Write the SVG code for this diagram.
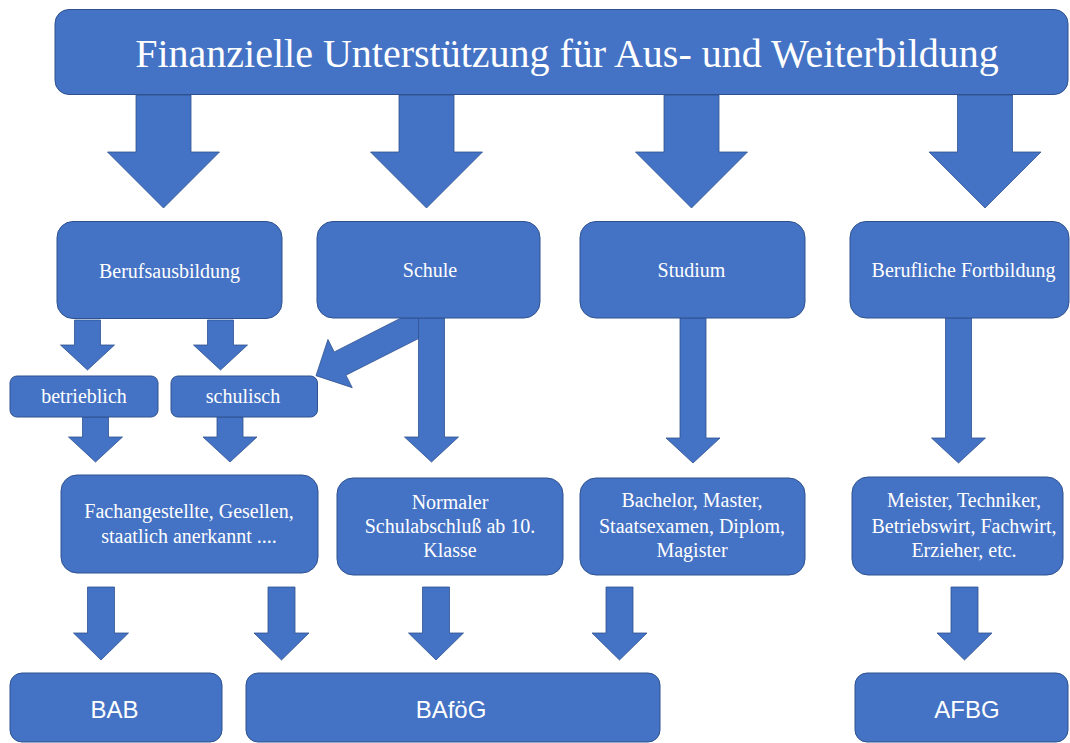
<svg xmlns="http://www.w3.org/2000/svg" width="1070" height="743" viewBox="0 0 1070 743">
<style>
.box{fill:#4472C4;stroke:#2F528F;stroke-width:1}
.arr{fill:#4472C4;stroke:#2F528F;stroke-width:0.8;stroke-linejoin:miter}
.t{fill:#ffffff;font-family:"Liberation Serif","Times New Roman",serif;font-size:20px;text-anchor:middle}
.tt{fill:#ffffff;font-family:"Liberation Serif","Times New Roman",serif;font-size:40px;text-anchor:middle}
.ts{fill:#ffffff;font-family:"Liberation Sans",Arial,sans-serif;font-size:24px;text-anchor:middle}
</style>
<rect width="1070" height="743" fill="#ffffff"/>
<g id="connectors">
<polygon class="arr" points="136,95 191,95 191,152 219.5,152 163.5,208 107.5,152 136,152"/>
<polygon class="arr" points="399,95 454,95 454,152 482.5,152 426.5,208 370.5,152 399,152"/>
<polygon class="arr" points="664,95 719,95 719,152 747.5,152 691.5,208 635.5,152 664,152"/>
<polygon class="arr" points="957.5,95 1012.5,95 1012.5,152 1041,152 985,208 929,152 957.5,152"/>
<polygon class="arr" points="74.5,320 100.5,320 100.5,345 114.5,345 87.5,370 60.5,345 74.5,345"/>
<polygon class="arr" points="207.5,320 233.5,320 233.5,345 247.5,345 220.5,370 193.5,345 207.5,345"/>
<polygon class="arr" points="82.5,417 108.5,417 108.5,437 122.5,437 95.5,462 68.5,437 82.5,437"/>
<polygon class="arr" points="217,417 243,417 243,437 257,437 230,462 203,437 217,437"/>
<polygon class="arr" points="401,318 420,318 420,337.8 345.95,375.15 352.25,387.65 316,375.7 327.95,339.45 334.25,351.95"/>
<polygon class="arr" points="418.5,318 444.5,318 444.5,437 458.5,437 431.5,462 404.5,437 418.5,437"/>
<polygon class="arr" points="680,318 706,318 706,438 720,438 693,463 666,438 680,438"/>
<polygon class="arr" points="945.5,318 971.5,318 971.5,438 985.5,438 958.5,463 931.5,438 945.5,438"/>
<polygon class="arr" points="87.5,587 114.5,587 114.5,633 128.5,633 101,660 73.5,633 87.5,633"/>
<polygon class="arr" points="268,587 295,587 295,633 309,633 281.5,660 254,633 268,633"/>
<polygon class="arr" points="422.5,587 449.5,587 449.5,633 463.5,633 436,660 408.5,633 422.5,633"/>
<polygon class="arr" points="606,587 633,587 633,633 647,633 619.5,660 592,633 606,633"/>
<polygon class="arr" points="951,587 978,587 978,633 992,633 964.5,660 937,633 951,633"/>
</g>
<g id="n-title">
<rect class="box" x="55" y="9.5" width="1013" height="85" rx="14"/>
<text class="tt" x="567" y="67">Finanzielle Unterstützung für Aus- und Weiterbildung</text>
</g>
<g id="n-berufsausbildung">
<rect class="box" x="57" y="221.5" width="225" height="97" rx="16"/>
<text class="t" x="169.5" y="278">Berufsausbildung</text>
</g>
<g id="n-schule">
<rect class="box" x="317" y="221.5" width="223" height="96.5" rx="16"/>
<text class="t" x="430" y="277">Schule</text>
</g>
<g id="n-studium">
<rect class="box" x="580" y="221.5" width="225" height="96.5" rx="16"/>
<text class="t" x="691.5" y="277">Studium</text>
</g>
<g id="n-fortbildung">
<rect class="box" x="850" y="221.5" width="219" height="96.5" rx="16"/>
<text class="t" x="963.5" y="277">Berufliche Fortbildung</text>
</g>
<g id="n-betrieblich">
<rect class="box" x="10" y="376" width="148" height="41" rx="7"/>
<text class="t" x="84" y="403">betrieblich</text>
</g>
<g id="n-schulisch">
<rect class="box" x="171" y="376" width="146.5" height="41" rx="7"/>
<text class="t" x="243" y="403">schulisch</text>
</g>
<g id="n-fachangestellte">
<rect class="box" x="61" y="475" width="257" height="98" rx="16"/>
<text class="t" x="189" y="518">Fachangestellte, Gesellen,</text>
<text class="t" x="189" y="543">staatlich anerkannt ....</text>
</g>
<g id="n-normaler">
<rect class="box" x="337" y="478" width="226" height="97" rx="16"/>
<text class="t" x="450" y="509">Normaler</text>
<text class="t" x="450" y="533">Schulabschluß ab 10.</text>
<text class="t" x="450" y="557">Klasse</text>
</g>
<g id="n-bachelor">
<rect class="box" x="580" y="478" width="225" height="97" rx="16"/>
<text class="t" x="692" y="507">Bachelor, Master,</text>
<text class="t" x="692" y="533">Staatsexamen, Diplom,</text>
<text class="t" x="692" y="557">Magister</text>
</g>
<g id="n-meister">
<rect class="box" x="852" y="477" width="211" height="98" rx="16"/>
<text class="t" x="964" y="507">Meister, Techniker,</text>
<text class="t" x="964" y="533">Betriebswirt, Fachwirt,</text>
<text class="t" x="964" y="557">Erzieher, etc.</text>
</g>
<g id="n-bab">
<rect class="box" x="10" y="673" width="212" height="69" rx="12"/>
<text class="ts" x="114.5" y="718">BAB</text>
</g>
<g id="n-bafoeg">
<rect class="box" x="246" y="673" width="414" height="69" rx="12"/>
<text class="ts" x="451" y="718">BAföG</text>
</g>
<g id="n-afbg">
<rect class="box" x="855" y="673" width="213" height="69" rx="12"/>
<text class="ts" x="967" y="718">AFBG</text>
</g>
</svg>
